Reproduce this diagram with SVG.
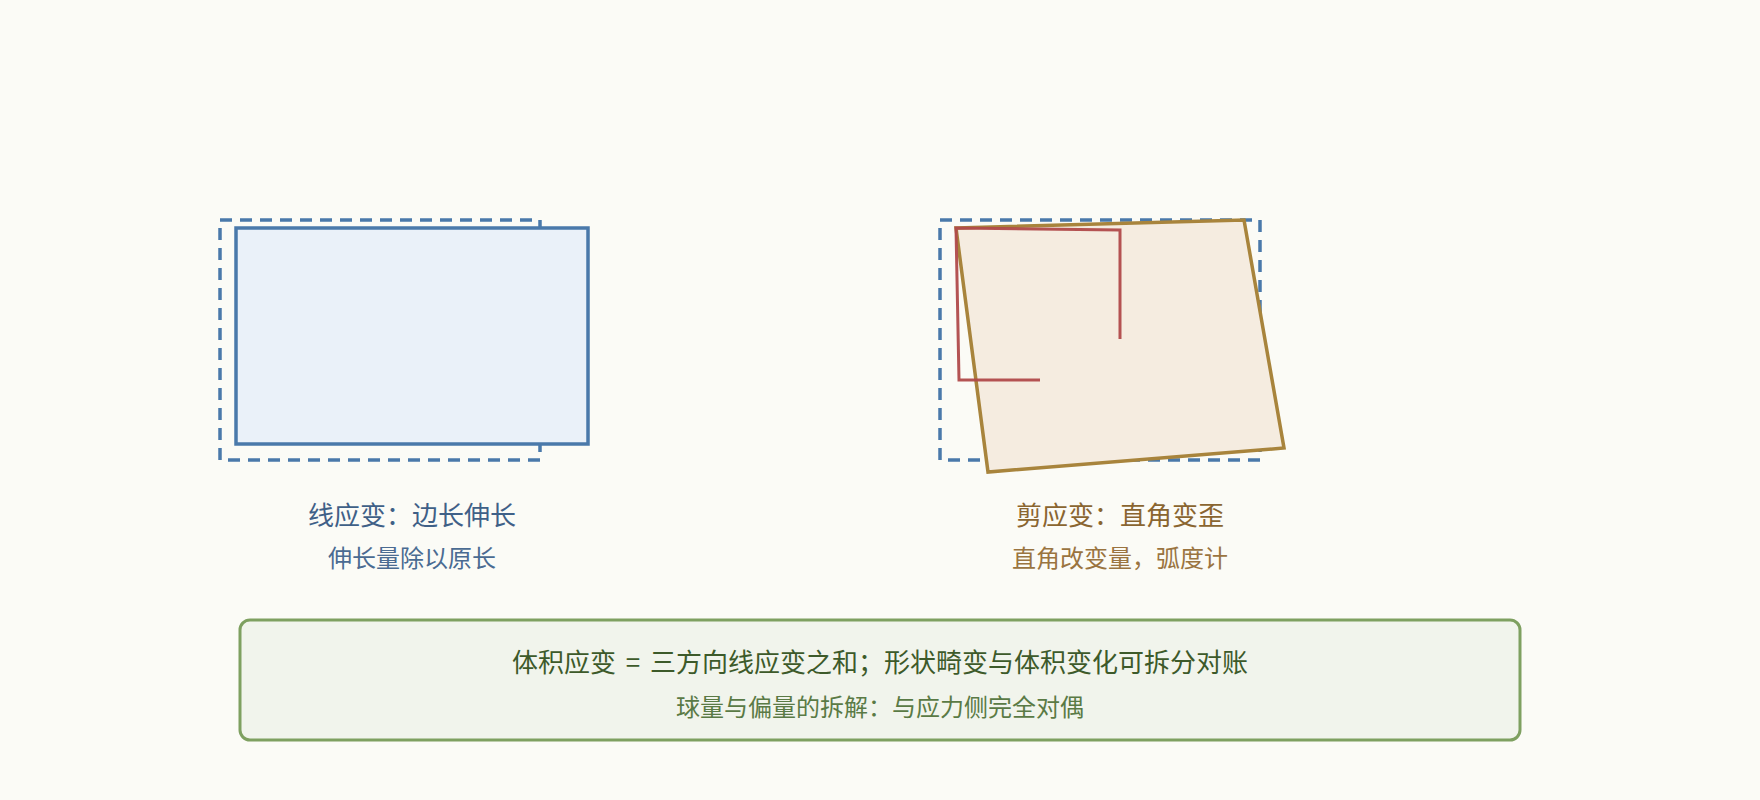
<svg xmlns="http://www.w3.org/2000/svg" width="1760" height="800" viewBox="0 0 1760 800">
<style>
.ref{fill:none;stroke:#4a79aa;stroke-width:3.5;stroke-dasharray:12 8}
text{font-family:"Noto Sans CJK SC","Noto Sans",sans-serif;text-anchor:middle}
.t{font-size:26px}
.s{font-size:24px}
</style>
<rect width="1760" height="800" fill="#fbfbf6"/>
<g id="linear-strain">
<rect class="ref" x="220" y="220" width="320" height="240"/>
<rect x="236" y="228" width="352" height="216" fill="#eaf1f9" stroke="#4a79aa" stroke-width="3.5"/>
<text class="t" x="412" y="525" fill="#3f6087">线应变：边长伸长</text>
<text class="s" x="412" y="567" fill="#4a6b92">伸长量除以原长</text>
</g>
<g id="shear-strain">
<rect class="ref" x="940" y="220" width="320" height="240"/>
<polygon points="956,228 1244,220 1284,448 988,472" fill="#f5ece0" stroke="#a8843c" stroke-width="3.5" stroke-linejoin="miter"/>
<path d="M1120,339 L1120,230 L956,228 L959,380 L1040,380" fill="none" stroke="#b04a4a" stroke-width="3" stroke-opacity="0.95"/>
<text class="t" x="1120" y="525" fill="#8a6530">剪应变：直角变歪</text>
<text class="s" x="1120" y="567" fill="#9a7440">直角改变量，弧度计</text>
</g>
<g id="volumetric">
<rect x="240" y="620" width="1280" height="120" rx="10" fill="#f1f4ec" stroke="#7ea060" stroke-width="3"/>
<text class="t" x="880" y="672" fill="#3d5a2a" word-spacing="4">体积应变 = 三方向线应变之和；形状畸变与体积变化可拆分对账</text>
<text class="s" x="880" y="716" fill="#5a7a45">球量与偏量的拆解：与应力侧完全对偶</text>
</g>
<g id="connectors"/>
</svg>
